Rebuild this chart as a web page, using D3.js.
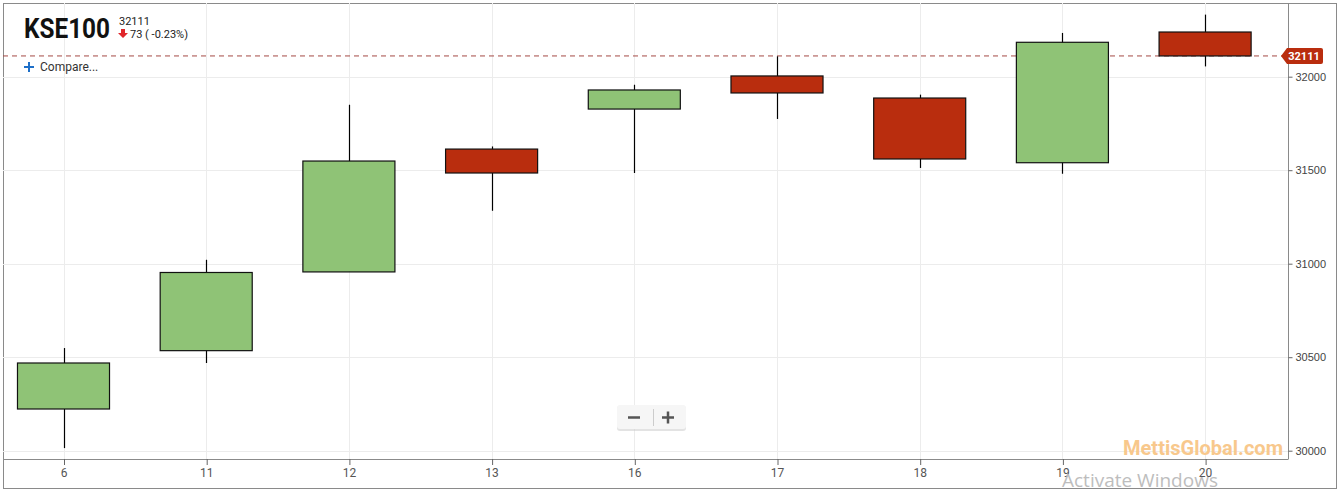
<!DOCTYPE html>
<html><head><meta charset="utf-8">
<script src="https://cdn.jsdelivr.net/npm/d3@7/dist/d3.min.js"></script>
<style>body{margin:0;background:#fff;}svg{display:block;font-family:Roboto,"Open Sans",sans-serif;}</style>
</head><body>
<svg id="c" width="1341" height="491"></svg>
<script>
const categories = ["6","11","12","13","16","17","18","19","20"];
const openV  = [30223, 30535, 30956, 31613, 31827, 32004, 31886, 31540, 32239];
const highV  = [30549, 31021, 31850, 31627, 31957, 32109, 31904, 32234, 32332];
const lowV   = [30014, 30469, 30956, 31283, 31485, 31774, 31512, 31481, 32055];
const closeV = [30469, 30953, 31549, 31485, 31929, 31913, 31560, 32184, 32111];
const yTicks = [30000, 30500, 31000, 31500, 32000];
const lastPrice = 32111;
const change = 73, changePct = -0.23;

const svg = d3.select("#c");
const L = 3, R = 1288.5, T = 3, B = 459;
const x = d3.scalePoint().domain(categories).range([63.5, 1205.1]);
const y = d3.scaleLinear().domain([30000, 32000]).range([450.7, 76.7]);
const step = x.step();
const bw = step * 0.645;

// outer frame
svg.append("rect").attr("x",3.5).attr("y",3.5).attr("width",1333).attr("height",485)
  .attr("fill","#fff").attr("stroke","#8a8a8a");

// grid
const g = svg.append("g");
g.selectAll(".hg").data(yTicks).join("line")
  .attr("x1",L).attr("x2",R).attr("y1",d=>Math.round(y(d))+0.5).attr("y2",d=>Math.round(y(d))+0.5)
  .attr("stroke","#ececec");
g.selectAll(".vg").data(categories).join("line")
  .attr("x1",d=>Math.round(x(d))+0.5).attr("x2",d=>Math.round(x(d))+0.5).attr("y1",T).attr("y2",B)
  .attr("stroke","#ececec");

// data
const data = categories.map((c,i)=>({c,o:openV[i],h:highV[i],l:lowV[i],cl:closeV[i]}));

// last price dashed line
svg.append("line").attr("x1",L).attr("x2",1282).attr("y1",y(lastPrice)).attr("y2",y(lastPrice))
  .attr("stroke","#a44a44").attr("stroke-dasharray","5,4").attr("stroke-width",1);

// wicks
svg.selectAll(".wick").data(data).join("line")
  .attr("x1",d=>Math.round(x(d.c))+0.5).attr("x2",d=>Math.round(x(d.c))+0.5)
  .attr("y1",d=>y(d.h)).attr("y2",d=>y(d.l)).attr("stroke","#000").attr("stroke-width",1.2);
// bodies
svg.selectAll(".body").data(data).join("rect")
  .attr("x",d=>x(d.c)-bw/2).attr("width",bw)
  .attr("y",d=>y(Math.max(d.o,d.cl))).attr("height",d=>Math.abs(y(d.o)-y(d.cl)))
  .attr("fill",d=>d.cl>=d.o?"#8fc376":"#b92d0e").attr("stroke","#111").attr("stroke-width",1.2);

// axes lines
svg.append("line").attr("x1",R).attr("x2",R).attr("y1",T).attr("y2",B).attr("stroke","#8a8a8a");
svg.append("line").attr("x1",L).attr("x2",R).attr("y1",B+0.5).attr("y2",B+0.5).attr("stroke","#8a8a8a");

const ya = svg.append("g").attr("transform",`translate(${R},0)`)
  .call(d3.axisRight(y).tickValues(yTicks).tickSize(4).tickPadding(3).tickFormat(d3.format("d")));
ya.select(".domain").remove();
ya.selectAll("line").attr("stroke","#666");
ya.selectAll("text").attr("fill","#444").style("font-size","11px").style("font-family","Arial, 'Liberation Sans', sans-serif");

const xa = svg.append("g").attr("transform",`translate(0,${B})`)
  .call(d3.axisBottom(x).tickSize(6).tickPadding(3));
xa.select(".domain").remove();
xa.selectAll("line").attr("stroke","#666").attr("transform","translate(0.5,0)");
xa.selectAll("text").attr("fill","#555").style("font-size","12px").style("font-family","Roboto, sans-serif");

// price tag
const py = y(lastPrice);
const tag = svg.append("g");
tag.append("path").attr("d",`M1281,${py} L1287,${py-8} L1321,${py-8} Q1323,${py-8} 1323,${py-6} L1323,${py+6} Q1323,${py+8} 1321,${py+8} L1287,${py+8} Z`)
  .attr("fill","#b92d0e");
tag.append("text").attr("x",1304).attr("y",py+4).attr("text-anchor","middle")
  .attr("fill","#fff").style("font-size","11px").style("font-weight","bold").style("font-family","Roboto, sans-serif").text(lastPrice);

// header
svg.append("text").attr("x",24).attr("y",38).text("KSE100")
  .style("font-size","27px").style("font-weight","bold").attr("fill","#111").attr("textLength",86).attr("lengthAdjust","spacingAndGlyphs");
svg.append("text").attr("x",119).attr("y",25).text(String(lastPrice)).style("font-size","11px").attr("fill","#222");
svg.append("path").attr("d","M121,29 L125,29 L125,33 L128,33 L123,38 L118,33 L121,33 Z").attr("fill","#e0262b");
svg.append("text").attr("x",130).attr("y",38).text(`${change} ( ${changePct.toFixed(2)}%)`).style("font-size","11px").attr("fill","#222");
svg.append("path").attr("d","M24,67 L34,67 M29,62 L29,72").attr("stroke","#1e6fc8").attr("stroke-width",2);
svg.append("text").attr("x",40).attr("y",71).text("Compare...").style("font-size","12px").attr("fill","#333");

// zoom buttons
const zb = svg.append("g");
zb.append("rect").attr("x",617).attr("y",406).attr("width",69).attr("height",25).attr("rx",3)
  .attr("fill","#c8c8c8").attr("opacity",0.5);
zb.append("rect").attr("x",617).attr("y",405).attr("width",69).attr("height",24).attr("rx",3).attr("fill","#f6f6f6");
zb.append("line").attr("x1",653.5).attr("x2",653.5).attr("y1",409).attr("y2",426).attr("stroke","#ccc");
zb.append("path").attr("d","M628,417.5 L640,417.5").attr("stroke","#555").attr("stroke-width",2.5);
zb.append("path").attr("d","M662,417.5 L674,417.5 M668,411.5 L668,423.5").attr("stroke","#555").attr("stroke-width",2.5);

// watermark
svg.append("text").attr("x",1283).attr("y",455).attr("text-anchor","end").text("MettisGlobal.com")
  .style("font-size","20px").style("font-weight","bold").attr("fill","#f8c88c").style("font-family","Roboto, sans-serif")
  .attr("textLength",160).attr("lengthAdjust","spacingAndGlyphs");
svg.append("text").attr("x",1062).attr("y",487).text("Activate Windows")
  .style("font-size","19px").attr("fill","#bdbdbd").style("font-family","'Open Sans', sans-serif");
</script>
</body></html>
